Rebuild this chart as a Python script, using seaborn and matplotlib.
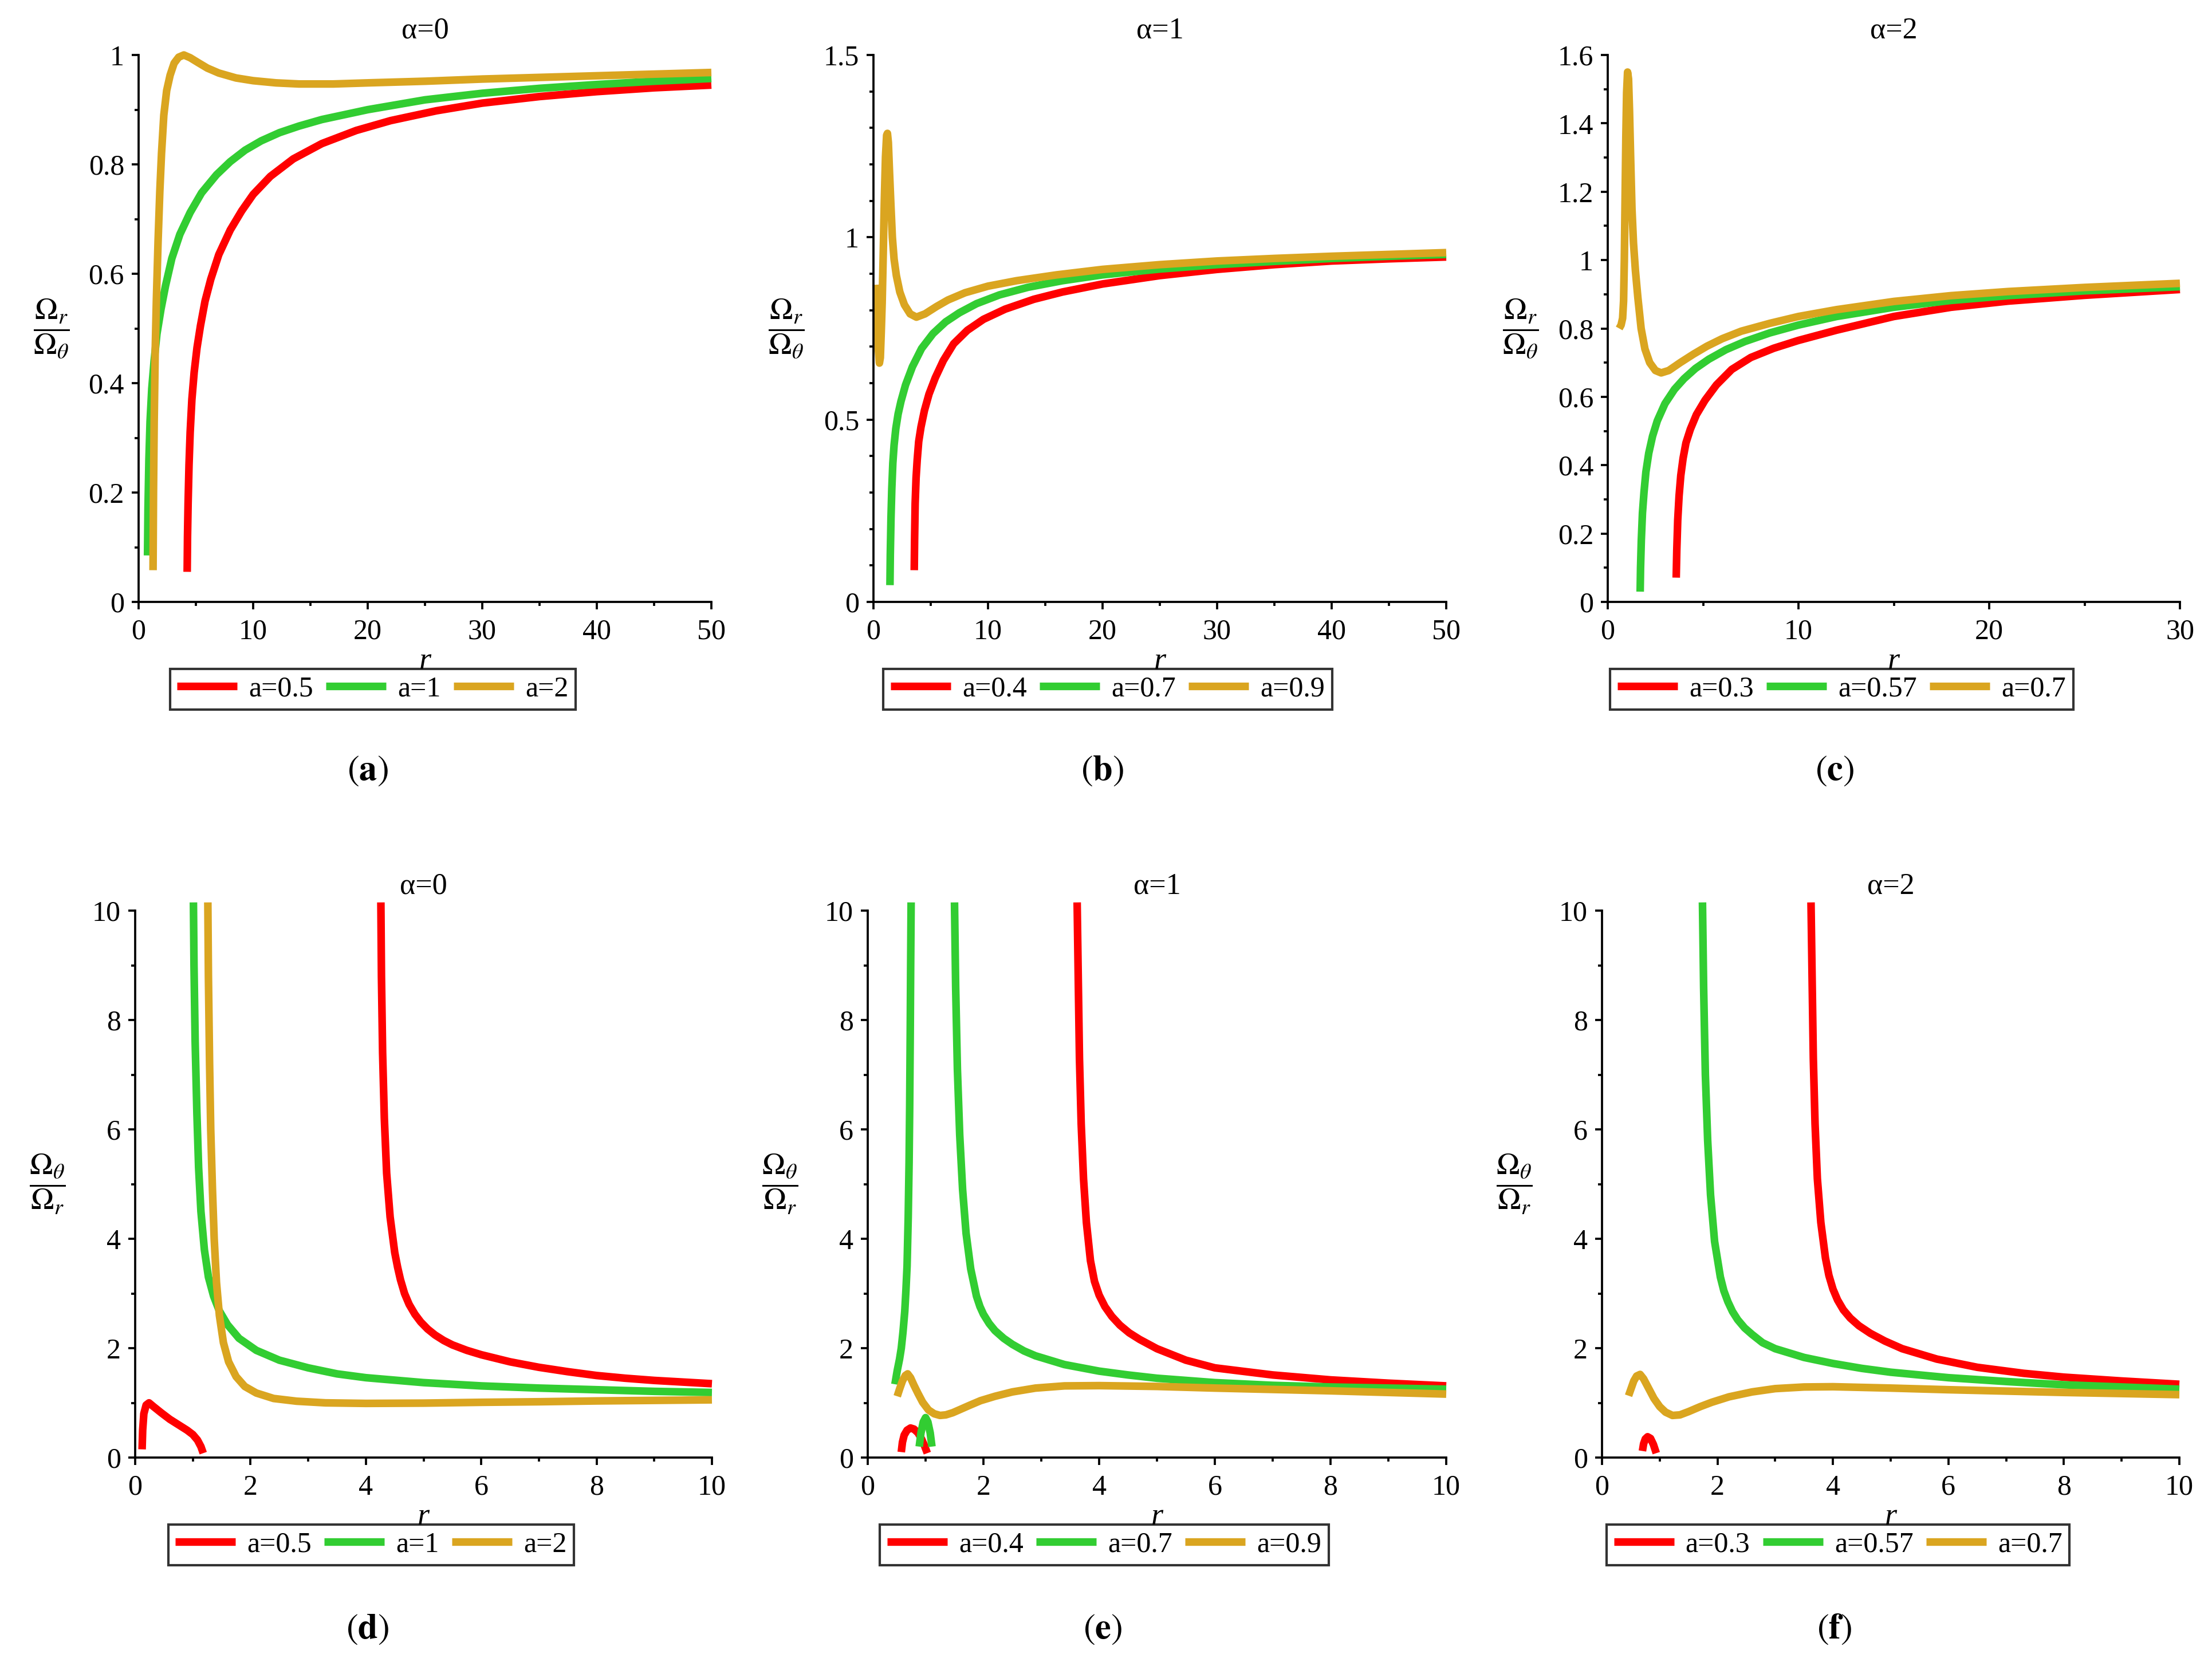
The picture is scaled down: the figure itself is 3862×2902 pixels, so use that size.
import numpy as np
import matplotlib
matplotlib.use("Agg")
import matplotlib.pyplot as plt
from matplotlib.lines import Line2D
from matplotlib.ticker import MultipleLocator, FormatStrFormatter
import seaborn as sns

# ---------------- data ----------------
# colours for the three spin values in every panel
line_colors = ["#FF0000", "#32CD32", "#DAA520"]

alpha_titles = ["α=0", "α=1", "α=2"]
spin_labels = [["a=0.5", "a=1", "a=2"],
               ["a=0.4", "a=0.7", "a=0.9"],
               ["a=0.3", "a=0.57", "a=0.7"]]
panel_tags = ["a", "b", "c", "d", "e", "f"]

# (a) alpha=0, Omega_r / Omega_theta
a_red_r = [4.24, 4.27, 4.32, 4.4, 4.5, 4.65, 4.85, 5.1, 5.4, 5.8, 6.3, 7.0, 8.0, 9.0, 10.0,
           11.5, 13.5, 16, 19, 22, 26, 30, 35, 40, 45, 50]
a_red_v = [0.055, 0.12, 0.18, 0.25, 0.31, 0.37, 0.42, 0.465, 0.505, 0.55, 0.59, 0.635, 0.68,
           0.715, 0.745, 0.778, 0.81, 0.838, 0.862, 0.88, 0.898, 0.912, 0.924, 0.933, 0.94, 0.945]
a_green_r = [0.78, 0.82, 0.9, 1.0, 1.15, 1.35, 1.6, 1.95, 2.35, 2.9, 3.6, 4.5, 5.5, 6.8, 8.0,
             9.3, 10.7, 12.3, 14, 16, 20, 25, 30, 35, 40, 45, 50]
a_green_v = [0.085, 0.17, 0.26, 0.33, 0.39, 0.44, 0.49, 0.535, 0.578, 0.628, 0.672, 0.712,
             0.748, 0.781, 0.805, 0.826, 0.843, 0.858, 0.87, 0.882, 0.9, 0.918, 0.93, 0.939,
             0.946, 0.952, 0.957]
a_gold_r = [1.26, 1.3, 1.36, 1.45, 1.55, 1.7, 1.85, 2.0, 2.2, 2.45, 2.75, 3.1, 3.5, 3.95, 4.5,
            5.2, 6.0, 7.0, 8.5, 10, 12, 14, 17, 20, 25, 30, 35, 40, 45, 50]
a_gold_v = [0.058, 0.2, 0.33, 0.46, 0.55, 0.66, 0.75, 0.82, 0.89, 0.935, 0.963, 0.985, 0.996,
            1.0, 0.995, 0.986, 0.976, 0.967, 0.958, 0.953, 0.949, 0.947, 0.947, 0.949, 0.952,
            0.956, 0.959, 0.962, 0.965, 0.968]

# (b) alpha=1, Omega_r / Omega_theta
b_red_r = [3.56, 3.59, 3.64, 3.72, 3.82, 3.95, 4.15, 4.45, 4.85, 5.4, 6.1, 7.0, 8.2, 9.6, 11.5,
           14, 16.5, 20, 25, 30, 35, 40, 45, 50]
b_red_v = [0.087, 0.17, 0.27, 0.34, 0.39, 0.44, 0.48, 0.525, 0.57, 0.615, 0.662, 0.708, 0.745,
           0.775, 0.803, 0.83, 0.85, 0.872, 0.895, 0.912, 0.925, 0.935, 0.941, 0.946]
b_green_r = [1.44, 1.47, 1.53, 1.6, 1.69, 1.8, 1.95, 2.15, 2.4, 2.8, 3.4, 4.2, 5.2, 6.3, 7.5, 9,
             11, 13.5, 16.5, 20, 25, 30, 35, 40, 45, 50]
b_green_v = [0.046, 0.13, 0.23, 0.31, 0.38, 0.43, 0.475, 0.515, 0.55, 0.595, 0.645, 0.695,
             0.736, 0.768, 0.793, 0.818, 0.842, 0.863, 0.881, 0.897, 0.913, 0.925, 0.934,
             0.942, 0.948, 0.953]
b_gold_r = [0.25, 0.3, 0.36, 0.43, 0.52, 0.6, 0.68, 0.76, 0.85, 0.95, 1.05, 1.15, 1.22, 1.3,
            1.4, 1.52, 1.65, 1.8, 2.0, 2.3, 2.7, 3.2, 3.75, 4.5, 5.5, 6.5, 8, 10, 12.5, 16, 20,
            25, 30, 35, 40, 45, 50]
b_gold_v = [0.87, 0.83, 0.76, 0.69, 0.655, 0.67, 0.74, 0.82, 0.95, 1.1, 1.22, 1.28, 1.285,
            1.26, 1.18, 1.09, 1.0, 0.94, 0.895, 0.85, 0.815, 0.79, 0.781, 0.79, 0.81, 0.828,
            0.848, 0.866, 0.881, 0.897, 0.912, 0.925, 0.935, 0.942, 0.948, 0.953, 0.958]

# (c) alpha=2, Omega_r / Omega_theta
c_red_r = [3.59, 3.62, 3.67, 3.74, 3.83, 3.95, 4.1, 4.33, 4.65, 5.1, 5.7, 6.5, 7.5, 8.7, 10,
           12, 15, 18, 21, 25, 30]
c_red_v = [0.071, 0.15, 0.24, 0.31, 0.37, 0.42, 0.465, 0.505, 0.548, 0.59, 0.635, 0.68, 0.715,
           0.742, 0.765, 0.795, 0.835, 0.862, 0.88, 0.897, 0.914]
c_green_r = [1.7, 1.72, 1.76, 1.82, 1.9, 2.0, 2.15, 2.35, 2.6, 3.0, 3.5, 4.0, 4.6, 5.3, 6.2,
             7.2, 8.5, 10, 12, 15, 18, 21, 25, 30]
c_green_v = [0.03, 0.1, 0.18, 0.26, 0.32, 0.38, 0.435, 0.485, 0.53, 0.58, 0.622, 0.653, 0.683,
             0.71, 0.738, 0.762, 0.787, 0.81, 0.835, 0.862, 0.882, 0.896, 0.91, 0.922]
c_gold_r = [0.6, 0.7, 0.78, 0.83, 0.87, 0.91, 0.95, 0.99, 1.04, 1.09, 1.14, 1.2, 1.27, 1.35,
            1.45, 1.58, 1.75, 1.95, 2.2, 2.5, 2.8, 3.2, 3.8, 4.5, 5.2, 6.0, 7.0, 8.5, 10, 12,
            15, 18, 21, 25, 30]
c_gold_v = [0.80, 0.81, 0.83, 0.88, 1.0, 1.18, 1.36, 1.49, 1.55, 1.53, 1.44, 1.3, 1.15, 1.05,
            0.97, 0.89, 0.80, 0.74, 0.70, 0.677, 0.67, 0.677, 0.7, 0.725, 0.748, 0.77, 0.792,
            0.815, 0.835, 0.855, 0.879, 0.896, 0.908, 0.92, 0.932]

# (d) alpha=0, Omega_theta / Omega_r
d_red_r = [4.26, 4.27, 4.29, 4.32, 4.36, 4.42, 4.5, 4.55, 4.6, 4.67, 4.75, 4.85, 4.95, 5.07,
           5.2, 5.35, 5.5, 5.75, 6.0, 6.5, 7.0, 7.5, 8.0, 8.5, 9.0, 9.5, 10.0]
d_red_v = [10.15, 8.8, 7.4, 6.2, 5.2, 4.4, 3.75, 3.48, 3.25, 3.0, 2.8, 2.62, 2.48, 2.35, 2.24,
           2.14, 2.06, 1.96, 1.88, 1.75, 1.65, 1.57, 1.5, 1.45, 1.41, 1.38, 1.35]
d_red2_r = [0.12, 0.13, 0.15, 0.19, 0.24, 0.32, 0.45, 0.6, 0.75, 0.9, 1.0, 1.08, 1.14, 1.18]
d_red2_v = [0.15, 0.5, 0.8, 0.96, 1.0, 0.93, 0.82, 0.7, 0.6, 0.5, 0.42, 0.32, 0.2, 0.08]
d_green_r = [1.01, 1.02, 1.04, 1.07, 1.1, 1.14, 1.2, 1.27, 1.36, 1.46, 1.6, 1.8, 2.1, 2.5, 3.0,
             3.5, 4.0, 5.0, 6.0, 7.0, 8.0, 9.0, 10.0]
d_green_v = [10.15, 9.0, 7.6, 6.3, 5.3, 4.5, 3.8, 3.3, 2.95, 2.68, 2.43, 2.18, 1.96, 1.78, 1.64,
             1.53, 1.46, 1.37, 1.31, 1.27, 1.24, 1.21, 1.19]
d_gold_r = [1.26, 1.27, 1.29, 1.31, 1.34, 1.37, 1.41, 1.46, 1.53, 1.62, 1.75, 1.9, 2.1, 2.4,
            2.8, 3.3, 4.0, 5.0, 6.0, 7.0, 8.0, 9.0, 10.0]
d_gold_v = [10.15, 8.8, 7.2, 6.0, 4.9, 4.0, 3.2, 2.6, 2.1, 1.75, 1.48, 1.3, 1.18, 1.08, 1.03,
            1.0, 0.99, 0.995, 1.01, 1.02, 1.035, 1.045, 1.055]

# (e) alpha=1, Omega_theta / Omega_r
e_red_r = [3.62, 3.64, 3.66, 3.69, 3.73, 3.78, 3.85, 3.92, 4.0, 4.1, 4.22, 4.36, 4.52, 4.7, 5.0,
           5.5, 6.0, 7.0, 8.0, 9.0, 10.0]
e_red_v = [10.15, 8.7, 7.3, 6.1, 5.1, 4.3, 3.6, 3.22, 2.97, 2.76, 2.58, 2.42, 2.28, 2.16, 1.99,
           1.78, 1.64, 1.51, 1.42, 1.36, 1.31]
e_red2_r = [0.58, 0.6, 0.63, 0.68, 0.74, 0.8, 0.87, 0.93, 0.98, 1.03]
e_red2_v = [0.1, 0.28, 0.41, 0.5, 0.54, 0.52, 0.45, 0.34, 0.22, 0.08]
e_green_r = [1.5, 1.52, 1.55, 1.59, 1.64, 1.7, 1.78, 1.88, 1.94, 2.0, 2.1, 2.2, 2.35, 2.5, 2.7,
             2.9, 3.4, 4.0, 4.5, 5.0, 6.0, 7.0, 8.0, 9.0, 10.0]
e_green_v = [10.15, 8.6, 7.1, 5.9, 4.9, 4.1, 3.45, 2.95, 2.76, 2.62, 2.45, 2.32, 2.18, 2.07,
             1.95, 1.86, 1.7, 1.58, 1.51, 1.45, 1.37, 1.32, 1.29, 1.27, 1.25]
e_green2_r = [0.47, 0.51, 0.55, 0.58, 0.61, 0.64, 0.66, 0.68, 0.7, 0.715, 0.725, 0.735, 0.742,
              0.75]
e_green2_v = [1.34, 1.59, 1.8, 2.0, 2.3, 2.67, 3.05, 3.5, 4.4, 5.4, 6.4, 7.8, 9.0, 10.15]
e_green3_r = [0.89, 0.92, 0.96, 1.0, 1.04, 1.08, 1.11]
e_green3_v = [0.2, 0.45, 0.65, 0.73, 0.65, 0.45, 0.2]
e_gold_r = [0.51, 0.55, 0.6, 0.65, 0.69, 0.74, 0.8, 0.87, 0.95, 1.05, 1.15, 1.25, 1.35, 1.47,
            1.6, 1.75, 1.95, 2.2, 2.5, 2.9, 3.4, 4.0, 5.0, 6.0, 7.0, 8.0, 9.0, 10.0]
e_gold_v = [1.12, 1.25, 1.4, 1.5, 1.53, 1.46, 1.32, 1.17, 1.01, 0.87, 0.8, 0.77, 0.78, 0.82,
            0.88, 0.95, 1.04, 1.12, 1.2, 1.27, 1.31, 1.315, 1.3, 1.27, 1.245, 1.22, 1.19, 1.16]

# (f) alpha=2, Omega_theta / Omega_r
f_red_r = [3.62, 3.64, 3.66, 3.69, 3.73, 3.79, 3.87, 3.93, 4.0, 4.08, 4.18, 4.3, 4.45, 4.65,
           4.9, 5.2, 5.8, 6.5, 7.3, 8.0, 9.0, 10.0]
f_red_v = [10.15, 8.7, 7.3, 6.1, 5.1, 4.3, 3.65, 3.33, 3.08, 2.88, 2.7, 2.55, 2.41, 2.27, 2.13,
           1.99, 1.8, 1.65, 1.54, 1.47, 1.4, 1.34]
f_red2_r = [0.7, 0.72, 0.75, 0.79, 0.84, 0.89, 0.94]
f_red2_v = [0.12, 0.25, 0.34, 0.38, 0.35, 0.24, 0.08]
f_green_r = [1.74, 1.76, 1.79, 1.83, 1.88, 1.95, 2.05, 2.11, 2.18, 2.26, 2.35, 2.47, 2.6, 2.78,
             3.0, 3.5, 4.0, 4.5, 5.0, 6.0, 7.0, 8.0, 9.0, 10.0]
f_green_v = [10.15, 8.6, 7.0, 5.8, 4.8, 3.95, 3.3, 3.05, 2.85, 2.67, 2.52, 2.37, 2.25, 2.1,
             1.99, 1.83, 1.72, 1.63, 1.56, 1.46, 1.39, 1.33, 1.29, 1.25]
f_gold_r = [0.46, 0.5, 0.55, 0.6, 0.66, 0.72, 0.8, 0.9, 1.0, 1.1, 1.22, 1.35, 1.5, 1.7, 1.9,
            2.2, 2.6, 3.0, 3.5, 4.0, 5.0, 6.0, 7.0, 8.0, 9.0, 10.0]
f_gold_v = [1.13, 1.25, 1.4, 1.49, 1.52, 1.44, 1.28, 1.08, 0.93, 0.83, 0.77, 0.78, 0.84, 0.93,
            1.01, 1.11, 1.2, 1.26, 1.29, 1.295, 1.27, 1.24, 1.215, 1.19, 1.17, 1.15]

# which branches go to which colour in each panel
panel_curves = [
    [[(a_red_r, a_red_v)], [(a_green_r, a_green_v)], [(a_gold_r, a_gold_v)]],
    [[(b_red_r, b_red_v)], [(b_green_r, b_green_v)], [(b_gold_r, b_gold_v)]],
    [[(c_red_r, c_red_v)], [(c_green_r, c_green_v)], [(c_gold_r, c_gold_v)]],
    [[(d_red_r, d_red_v), (d_red2_r, d_red2_v)], [(d_green_r, d_green_v)], [(d_gold_r, d_gold_v)]],
    [[(e_red_r, e_red_v), (e_red2_r, e_red2_v)],
     [(e_green_r, e_green_v), (e_green2_r, e_green2_v), (e_green3_r, e_green3_v)],
     [(e_gold_r, e_gold_v)]],
    [[(f_red_r, f_red_v), (f_red2_r, f_red2_v)], [(f_green_r, f_green_v)], [(f_gold_r, f_gold_v)]],
]

# ---------------- style ----------------
sns.set_style("ticks", rc={"axes.edgecolor": "black", "xtick.color": "black",
                           "ytick.color": "black", "text.color": "black",
                           "axes.labelcolor": "black"})
plt.rcParams['font.family'] = ['Liberation Serif', 'DejaVu Serif']
plt.rcParams['mathtext.fontset'] = 'stix'

W, H = 3862, 2902
fig = plt.figure(figsize=(W / 300, H / 300), dpi=300)

# axes boxes in pixels: left, top, right, bottom
boxes = [(242, 96, 1242, 1051), (1525, 96, 2525, 1051), (2807, 96, 3806, 1051),
         (236, 1590, 1243, 2545), (1515, 1590, 2525, 2545), (2797, 1590, 3805, 2545)]
xlims = [50, 50, 30, 10, 10, 10]
ylims = [1, 1.5, 1.6, 10, 10, 10]
xmaj = [10, 10, 10, 2, 2, 2]
xmin = [5, 5, 5, 1, 1, 1]
ymaj = [0.2, 0.5, 0.2, 2, 2, 2]
ymin = [0.1, 0.1, 0.1, 1, 1, 1]
tag_x = [642, 1925, 3203, 642, 1925, 3203]
tag_y = [1347, 1347, 1347, 2846, 2846, 2846]

top_label = r'$\dfrac{\Omega_r}{\Omega_\theta}$'
bottom_label = r'$\dfrac{\Omega_\theta}{\Omega_r}$'
lw = 3.2

for i in range(6):
    l, t, r, b = boxes[i]
    ax = fig.add_axes([l / W, 1 - b / H, (r - l) / W, (b - t) / H])
    col = i % 3
    for k, branches in enumerate(panel_curves[i]):
        for xs, ys in branches:
            sns.lineplot(x=xs, y=ys, color=line_colors[k], linewidth=lw, ax=ax,
                         sort=False, estimator=None, legend=False,
                         solid_capstyle='butt', solid_joinstyle='round', clip_on=False)
    ax.set_xlim(0, xlims[i])
    ax.set_ylim(0, ylims[i])
    ax.xaxis.set_major_locator(MultipleLocator(xmaj[i]))
    ax.xaxis.set_minor_locator(MultipleLocator(xmin[i]))
    ax.yaxis.set_major_locator(MultipleLocator(ymaj[i]))
    ax.yaxis.set_minor_locator(MultipleLocator(ymin[i]))
    ax.xaxis.set_major_formatter(FormatStrFormatter('%g'))
    ax.yaxis.set_major_formatter(FormatStrFormatter('%g'))
    sns.despine(ax=ax)
    for s in ['left', 'bottom']:
        ax.spines[s].set_linewidth(0.9)
    ax.tick_params(which='major', length=3.0, width=0.9, labelsize=12, direction='out')
    ax.tick_params(which='minor', length=1.6, width=0.9, direction='out')
    ax.tick_params(axis='x', pad=4)
    ax.tick_params(axis='y', pad=3)

    ax.set_title(alpha_titles[col], fontsize=12.5, pad=7)
    ax.set_xlabel('r', fontsize=13, style='italic')
    ax.xaxis.set_label_coords(0.5, -0.082)
    ax.set_ylabel(top_label if i < 3 else bottom_label, fontsize=13, rotation=0,
                  ha='center', va='center')
    ax.yaxis.set_label_coords(-0.152, 0.5)

    handles = [Line2D([], [], color=c, linewidth=lw, solid_capstyle='butt')
               for c in line_colors]
    leg = ax.legend(handles, spin_labels[col], loc='upper center',
                    bbox_to_anchor=(0.409, -0.122), ncol=3, fontsize=12,
                    frameon=True, fancybox=False, edgecolor='black',
                    handlelength=2.1, handletextpad=0.4, columnspacing=0.45,
                    borderpad=0.25, borderaxespad=0)
    leg.get_frame().set_linewidth(1.0)

    fig.text(tag_x[i] / W, 1 - tag_y[i] / H, r'$(\mathbf{' + panel_tags[i] + r'})$',
             ha='center', va='center', fontsize=15)

fig.savefig('out.png', dpi=300)
